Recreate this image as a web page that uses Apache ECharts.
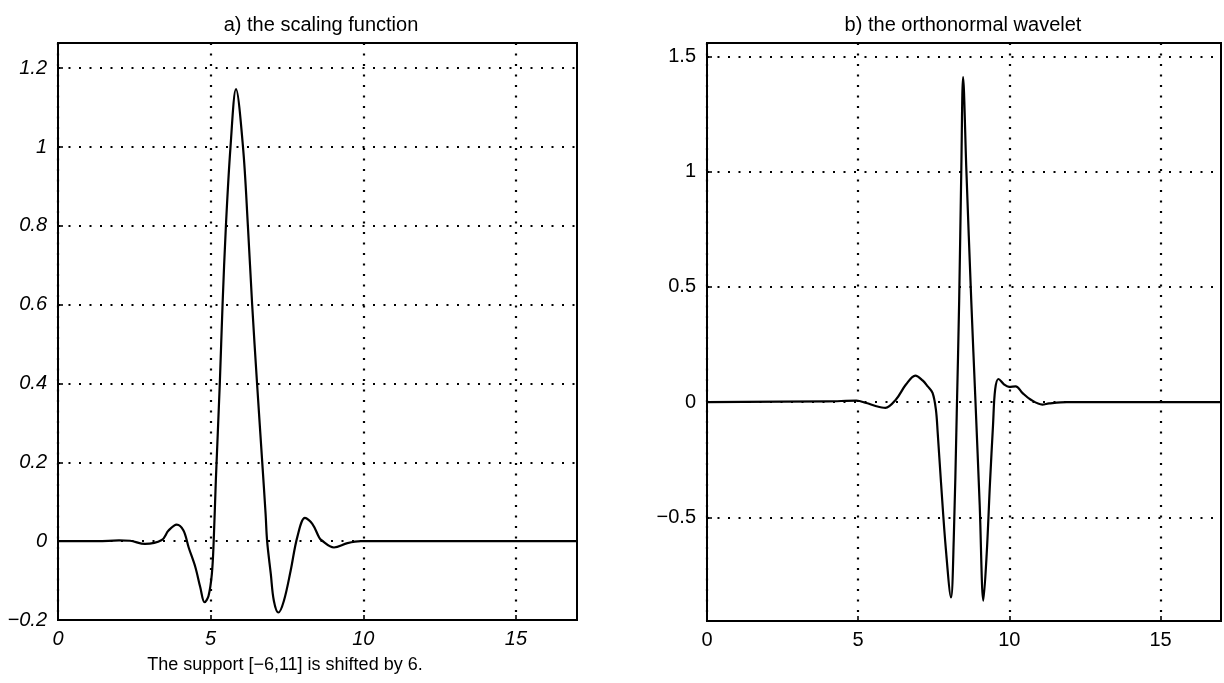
<!DOCTYPE html>
<html>
<head>
<meta charset="utf-8">
<script src="https://cdn.jsdelivr.net/npm/echarts@6/dist/echarts.min.js"></script>
<style>
html,body{margin:0;padding:0;background:#fff;}
#main{width:1224px;height:683px;}
</style>
</head>
<body>
<div id="main"></div>
<script>
// a) scaling function
var phiX = [0, 1.3, 2.0, 2.36, 2.85, 3.4, 3.62, 3.89, 4.11, 4.28, 4.5, 4.66, 4.8, 4.93, 5.04, 5.1, 5.17, 5.3, 5.39, 5.5, 5.65, 5.83, 6.06, 6.22, 6.36, 6.52, 6.69, 6.8, 6.85, 6.97, 7.07, 7.22, 7.4, 7.62, 7.84, 8.09, 8.33, 8.55, 8.62, 9.04, 9.48, 9.92, 12, 17];
var phiY = [0, 0, 0.002, 0.001, -0.007, 0.003, 0.027, 0.042, 0.027, -0.016, -0.066, -0.117, -0.155, -0.139, -0.083, 0, 0.154, 0.4, 0.6, 0.8, 1.0, 1.147, 1.0, 0.8, 0.6, 0.4, 0.2, 0.069, 0, -0.083, -0.151, -0.181, -0.151, -0.075, 0.011, 0.059, 0.044, 0.01, 0.003, -0.016, -0.005, 0, 0, 0];

// b) orthonormal wavelet
var psiX = [0, 4.0, 4.94, 5.27, 5.6, 5.9, 6.25, 6.58, 6.89, 7.13, 7.3, 7.46, 7.57, 7.63, 7.74, 7.9, 8.07, 8.16, 8.26, 8.34, 8.41, 8.47, 8.58, 8.74, 8.88, 9.02, 9.14, 9.25, 9.36, 9.46, 9.53, 9.64, 9.83, 9.99, 10.21, 10.43, 10.7, 11.09, 11.31, 11.9, 17];
var psiY = [0, 0.003, 0.006, -0.004, -0.018, -0.025, 0.011, 0.076, 0.115, 0.094, 0.068, 0.04, -0.032, -0.133, -0.35, -0.638, -0.848, -0.6, -0.05, 0.44, 1.0, 1.41, 1.0, 0.44, 0, -0.45, -0.862, -0.66, -0.35, -0.1, 0.054, 0.1, 0.076, 0.066, 0.068, 0.04, 0.011, -0.011, -0.006, 0, 0];

var xTicks = [0, 5, 10, 15];
var yTicksA = [-0.2, 0, 0.2, 0.4, 0.6, 0.8, 1, 1.2];
var yTicksB = [-0.5, 0, 0.5, 1, 1.5];

var titleA = 'a) the scaling function';
var titleB = 'b) the orthonormal wavelet';
var captionA = 'The support [\u22126,11] is shifted by 6.';

function pairs(xs, ys){
	var out = [];
	for(var i=0;i<xs.length;i++){
		out.push([xs[i], ys[i]]);
	}
	return out;
}

function fmt(v){
	return String(v).replace('-', '\u2212');
}

var font = '"Liberation Sans", Arial, sans-serif';
var dots = {color:'#000', width:2.2, type:[2, 8.5]};

function xAxisOf(idx, italic){
	return {
		type:'value', gridIndex:idx, min:0, max:17,
		axisLine:{show:true, onZero:false, lineStyle:{color:'#000', width:2}},
		axisTick:{show:true, inside:true, length:5, customValues:xTicks, lineStyle:{color:'#000', width:1.6}},
		axisLabel:{customValues:xTicks, color:'#000', fontSize:20, fontFamily:font, fontStyle:italic?'italic':'normal', margin:9, formatter:fmt},
		splitLine:{show:true, lineStyle:dots}
	};
}

function yAxisOf(idx, lo, hi, ticks, italic){
	return {
		type:'value', gridIndex:idx, min:lo, max:hi,
		axisLine:{show:true, onZero:false, lineStyle:{color:'#000', width:2}},
		axisTick:{show:true, inside:true, length:5, customValues:ticks, lineStyle:{color:'#000', width:1.6}},
		axisLabel:{customValues:ticks, color:'#000', fontSize:20, fontFamily:font, fontStyle:italic?'italic':'normal', margin:11, formatter:fmt},
		splitLine:{show:true, lineStyle:dots}
	};
}

var myChart = echarts.init(document.getElementById('main'));
var option = {
	backgroundColor:'#fff',
	animation:false,
	title:[{
		text:titleA, left:316, top:10, textAlign:'center',
		textStyle:{fontFamily:font, fontSize:20, fontWeight:'normal', color:'#000'}
	},{
		text:titleB, left:958, top:10, textAlign:'center',
		textStyle:{fontFamily:font, fontSize:20, fontWeight:'normal', color:'#000'}
	},{
		text:captionA, left:280, top:651, textAlign:'center',
		textStyle:{fontFamily:font, fontSize:18, fontWeight:'normal', color:'#000'}
	}],
	grid:[
		{left:58, right:647, top:43, bottom:63, show:true, borderColor:'#000', borderWidth:2},
		{left:707, right:3, top:43, bottom:62, show:true, borderColor:'#000', borderWidth:2}
	],
	xAxis:[xAxisOf(0, true), xAxisOf(1, false)],
	yAxis:[yAxisOf(0, -0.2, 1.264, yTicksA, true), yAxisOf(1, -0.95, 1.558, yTicksB, false)],
	series:[{
		name:'phi', type:'line', xAxisIndex:0, yAxisIndex:0,
		data:pairs(phiX, phiY), smooth:0.35, showSymbol:false,
		lineStyle:{color:'#000', width:2.2}
	},{
		name:'psi', type:'line', xAxisIndex:1, yAxisIndex:1,
		data:pairs(psiX, psiY), smooth:0.35, showSymbol:false,
		lineStyle:{color:'#000', width:2.2}
	}]
};
myChart.setOption(option);
</script>
</body>
</html>
